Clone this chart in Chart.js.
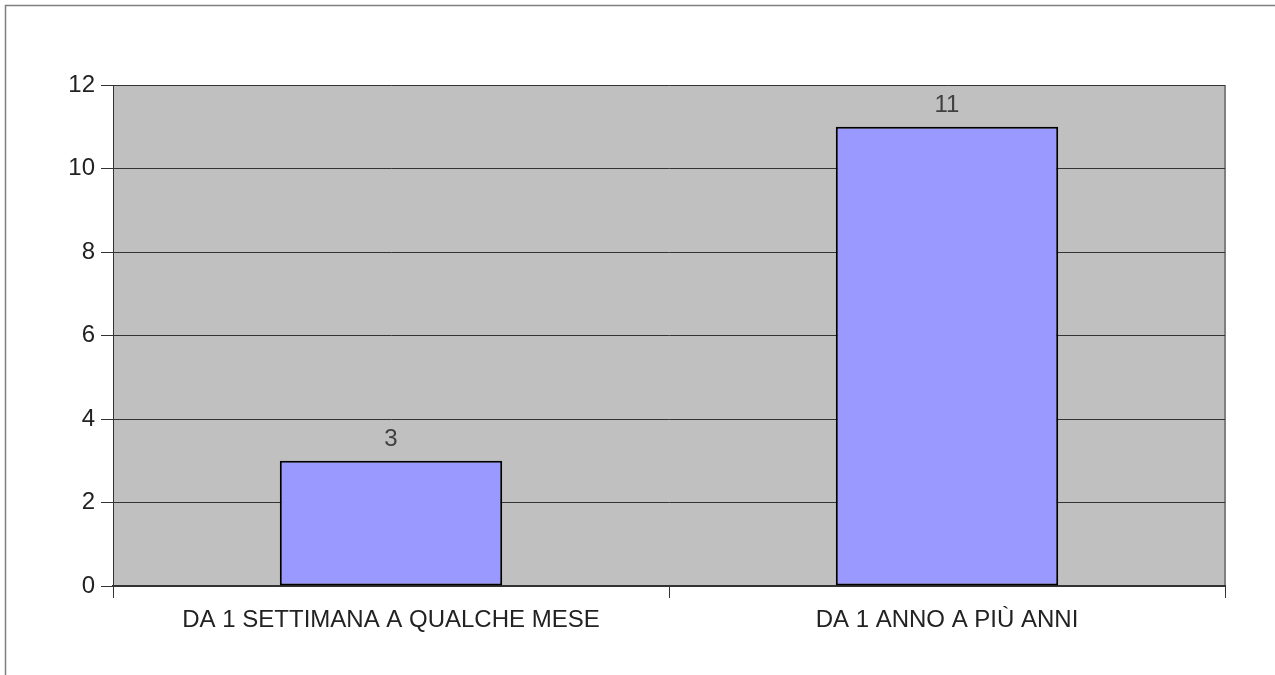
<!DOCTYPE html>
<html>
<head>
<meta charset="utf-8">
<script src="https://cdn.jsdelivr.net/npm/chart.js@4"></script>
<style>
  html, body { margin: 0; padding: 0; background: #fff; }
  #wrap { width: 1275px; height: 675px; position: relative; }
</style>
</head>
<body>
<div id="wrap"><canvas id="barChart"></canvas></div>
<script>
// data
const categorie = ['DA 1 SETTIMANA A QUALCHE MESE', 'DA 1 ANNO A PIÙ ANNI'];
const valori = [3, 11];
const yTicks = [0, 2, 4, 6, 8, 10, 12];

const fontBase = { family: '"Liberation Sans", Arial, sans-serif', size: 24 };

// sfondo grigio + cornice
const sfondoPlugin = {
  id: 'sfondo',
  beforeDraw(chart) {
    const ctx = chart.ctx;
    const a = chart.chartArea;
    ctx.save();
    // cornice esterna
    ctx.strokeStyle = '#7f7f7f';
    ctx.lineWidth = 1.5;
    ctx.beginPath();
    ctx.moveTo(5.5, 675);
    ctx.lineTo(5.5, 5.5);
    ctx.lineTo(1275, 5.5);
    ctx.stroke();
    // area grafico
    ctx.fillStyle = '#c0c0c0';
    ctx.fillRect(a.left, a.top, a.right - a.left, a.bottom - a.top);
    ctx.strokeStyle = '#808080';
    ctx.lineWidth = 2;
    ctx.beginPath();
    ctx.moveTo(a.right, a.top);
    ctx.lineTo(a.right, a.bottom);
    ctx.stroke();
    ctx.restore();
  }
};

// etichette sopra le barre
const etichettePlugin = {
  id: 'etichette',
  afterDatasetsDraw(chart) {
    const ctx = chart.ctx;
    const meta = chart.getDatasetMeta(0);
    ctx.save();
    ctx.fillStyle = '#404040';
    ctx.font = '24px "Liberation Sans", Arial, sans-serif';
    ctx.textAlign = 'center';
    ctx.textBaseline = 'bottom';
    meta.data.forEach(function (bar, i) {
      ctx.fillText(String(valori[i]), bar.x, bar.y - 9);
    });
    ctx.restore();
  }
};

const chart = new Chart(document.getElementById('barChart'), {
  type: 'bar',
  data: {
    labels: categorie,
    datasets: [{
      data: valori,
      backgroundColor: '#9999ff',
      borderColor: '#000000',
      borderWidth: 2,
      borderSkipped: false,
      categoryPercentage: 1,
      barPercentage: 0.4
    }]
  },
  options: {
    responsive: true,
    maintainAspectRatio: false,
    animation: false,
    layout: { padding: { left: 0, top: 85, right: 50, bottom: 0 } },
    plugins: {
      legend: { display: false },
      tooltip: { enabled: false }
    },
    scales: {
      x: {
        offset: true,
        grid: {
          offset: true,
          drawOnChartArea: false,
          drawTicks: true,
          tickLength: 12,
          color: '#333333'
        },
        border: { color: '#333333', width: 2 },
        ticks: { color: '#222222', font: fontBase, padding: 8, maxRotation: 0 },
        afterFit(scale) { scale.height = 89; }
      },
      y: {
        min: 0,
        max: 12,
        afterBuildTicks(scale) { scale.ticks = yTicks.map(v => ({ value: v })); },
        grid: { color: '#333333', tickLength: 12, lineWidth: 1 },
        border: { color: '#333333', width: 1 },
        ticks: { color: '#222222', font: fontBase, padding: 6 },
        afterFit(scale) { scale.width = 113; }
      }
    }
  },
  plugins: [sfondoPlugin, etichettePlugin]
});
</script>
</body>
</html>
